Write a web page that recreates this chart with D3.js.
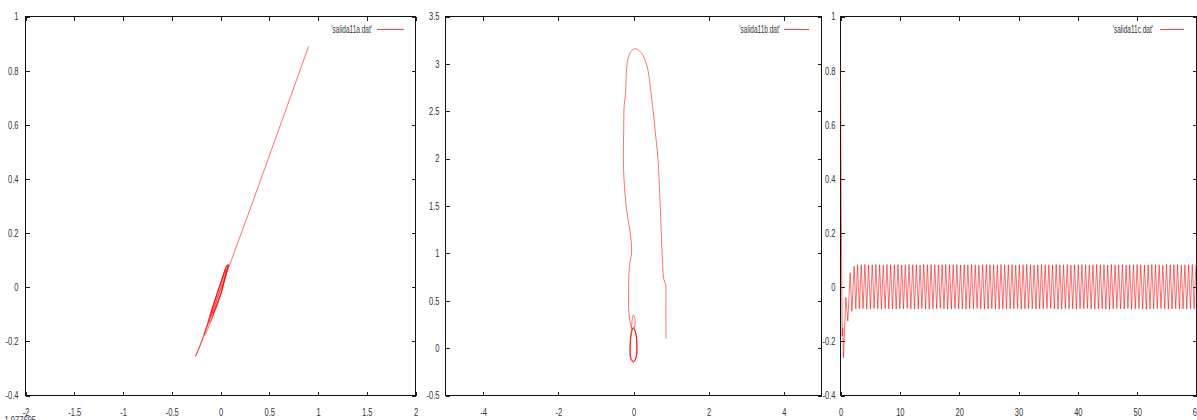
<!DOCTYPE html>
<html>
<head>
<meta charset="utf-8">
<script src="https://cdn.jsdelivr.net/npm/d3@7"></script>
<style>
  html, body { margin: 0; padding: 0; background: #fff; }
  svg { display: block; }
</style>
</head>
<body>
<svg id="chart" width="1197" height="420"></svg>
<script>
// ---- panel a: phase portrait (x, y) ----
const aX = [0.903, 0.60, 0.30, 0.00, -0.20, -0.256, -0.21, -0.06, 0.06, 0.038, -0.07, -0.17, -0.15, -0.03, 0.075,
            0.052, -0.06, -0.127, -0.104, 0.00, 0.080, 0.060, -0.03, -0.105, -0.085, 0.01, 0.083,
            0.066, -0.02, -0.095, -0.078, 0.01, 0.085];
const aY = [0.889, 0.585, 0.285, -0.010, -0.205, -0.255, -0.218, -0.070, 0.065, 0.055, -0.060, -0.175, -0.172, -0.065, 0.078,
            0.071, -0.050, -0.127, -0.128, -0.030, 0.082, 0.080, -0.020, -0.105, -0.108, -0.020, 0.083,
            0.082, -0.010, -0.093, -0.096, -0.018, 0.084];

// ---- panel b: phase portrait (x, y) ----
const bX = [0.865, 0.86, 0.855, 0.80, 0.78, 0.76, 0.71, 0.65, 0.59, 0.48, 0.35, 0.20, 0.05, -0.05, -0.15, -0.19, -0.21,
            -0.25, -0.26, -0.27, -0.24, -0.18, -0.10, -0.06, -0.05, -0.09, -0.12, -0.13, -0.13, -0.10, -0.04,
            0.02, 0.04, 0.00, -0.04, -0.06, -0.09, -0.07, 0.00, 0.07, 0.09, 0.06, 0.00, -0.06, -0.09, -0.07,
            0.00, 0.07, 0.09, 0.06, 0.00, -0.06, -0.09, -0.07, 0.00, 0.07, 0.09, 0.05, 0.00];
const bY = [0.10, 0.40, 0.66, 0.74, 0.85, 1.00, 1.50, 2.00, 2.24, 2.65, 2.99, 3.12, 3.16, 3.14, 3.05, 2.90, 2.70,
            2.55, 2.30, 2.00, 1.70, 1.45, 1.25, 1.12, 1.00, 0.92, 0.80, 0.60, 0.42, 0.30, 0.21,
            0.22, 0.31, 0.35, 0.28, 0.15, 0.00, -0.12, -0.15, -0.10, 0.03, 0.16, 0.22, 0.16, 0.03, -0.10,
            -0.14, -0.10, 0.03, 0.16, 0.21, 0.15, 0.02, -0.11, -0.14, -0.09, 0.03, 0.17, 0.21];

// ---- panel c: time series ----
const cStartT = [0, 0.12, 0.28, 0.38, 0.50, 0.90, 1.23, 1.63, 1.91, 2.30, 2.58, 2.87];
const cStartY = [0.82, 0.30, -0.18, -0.15, -0.26, -0.038, -0.125, 0.054, -0.089, 0.078, -0.080, 0.083];
const cHalfPeriod = 0.31;
const cTroughs = [
  -0.080,-0.079,-0.081,-0.080,-0.078,-0.080,-0.081,-0.079,-0.080,-0.080,
  -0.081,-0.079,-0.080,-0.078,-0.080,-0.081,-0.080,-0.079,-0.080,-0.081,
  -0.080,-0.079,-0.078,-0.080,-0.081,-0.080,-0.079,-0.080,-0.080,-0.081,
  -0.079,-0.080,-0.078,-0.080,-0.081,-0.080,-0.079,-0.080,-0.081,-0.080,
  -0.079,-0.080,-0.080,-0.078,-0.081,-0.080,-0.079,-0.080,-0.081,-0.080,
  -0.080,-0.079,-0.078,-0.080,-0.081,-0.080,-0.079,-0.080,-0.080,-0.081,
  -0.079,-0.080,-0.078,-0.080,-0.081,-0.080,-0.079,-0.080,-0.081,-0.080,
  -0.079,-0.080,-0.080,-0.078,-0.081,-0.080,-0.079,-0.080,-0.081,-0.080,
  -0.080,-0.079,-0.078,-0.080,-0.081,-0.080,-0.079,-0.080,-0.080,-0.081,
  -0.079,-0.080];
const cPeaks = [
  0.083,0.084,0.082,0.083,0.084,0.083,0.082,0.084,0.083,0.083,
  0.084,0.082,0.083,0.084,0.083,0.083,0.082,0.084,0.083,0.084,
  0.083,0.082,0.083,0.084,0.083,0.083,0.084,0.082,0.083,0.083,
  0.084,0.083,0.082,0.083,0.084,0.083,0.083,0.082,0.084,0.083,
  0.083,0.084,0.082,0.083,0.083,0.084,0.083,0.082,0.083,0.084,
  0.083,0.083,0.082,0.084,0.083,0.083,0.084,0.082,0.083,0.083,
  0.084,0.083,0.082,0.083,0.084,0.083,0.083,0.082,0.084,0.083,
  0.083,0.084,0.082,0.083,0.083,0.084,0.083,0.082,0.083,0.084,
  0.083,0.083,0.082,0.084,0.083,0.083,0.084,0.082,0.083,0.083,
  0.084,0.083];

// ---- axes ----
const aXTicks = [-2, -1.5, -1, -0.5, 0, 0.5, 1, 1.5, 2];
const aYTicks = [-0.4, -0.2, 0, 0.2, 0.4, 0.6, 0.8, 1];
const bXTicks = [-4, -2, 0, 2, 4];
const bYTicks = [-0.5, 0, 0.5, 1, 1.5, 2, 2.5, 3, 3.5];
const cXTicks = [0, 10, 20, 30, 40, 50, 60];
const cYTicks = [-0.4, -0.2, 0, 0.2, 0.4, 0.6, 0.8, 1];

const legendA = "'salida11a.dat'";
const legendB = "'salida11b.dat'";
const legendC = "'salida11c.dat'";

const svg = d3.select("#chart");
const FONT = "'Liberation Sans', Arial, sans-serif";
const SX = 0.72;   // horizontal squeeze of the gnuplot-style lettering
const fmt = v => String(+v.toFixed(2));

function drawPanel(o) {
  const x = d3.scaleLinear().domain(o.xDomain).range([o.left, o.right]);
  const y = d3.scaleLinear().domain(o.yDomain).range([o.bottom, o.top]);
  const g = svg.append("g");

  // frame
  g.append("rect")
    .attr("x", o.left).attr("y", o.top)
    .attr("width", o.right - o.left).attr("height", o.bottom - o.top)
    .attr("fill", "none").attr("stroke", "#111").attr("stroke-width", 1)
    .attr("shape-rendering", "crispEdges");

  const styleAxis = sel => {
    sel.select(".domain").remove();
    sel.selectAll("line").attr("stroke", "#222").attr("shape-rendering", "crispEdges");
    sel.selectAll("text").attr("font-family", FONT).attr("font-size", 10.5).attr("fill", "#333");
  };

  // left axis with labels, ticks pointing inward
  const gl = g.append("g").attr("transform", `translate(${o.left},0)`)
    .call(d3.axisLeft(y).tickValues(o.yTicks).tickFormat(fmt).tickSizeInner(-4).tickSizeOuter(0).tickPadding(o.yPad));
  styleAxis(gl);
  gl.selectAll("text").each(function () {
    const t = d3.select(this);
    const xx = +t.attr("x");
    t.attr("x", 0).attr("transform", `translate(${xx},0) scale(${SX},1)`);
  });

  // right mirror ticks
  const gr = g.append("g").attr("transform", `translate(${o.right},0)`)
    .call(d3.axisRight(y).tickValues(o.yTicks).tickFormat("").tickSizeInner(-4).tickSizeOuter(0));
  styleAxis(gr);

  // bottom axis with labels
  const gb = g.append("g").attr("transform", `translate(0,${o.bottom})`)
    .call(d3.axisBottom(x).tickValues(o.xTicks).tickFormat(fmt).tickSizeInner(-4).tickSizeOuter(0).tickPadding(13));
  styleAxis(gb);
  gb.selectAll("text").attr("transform", `scale(${SX},1)`);

  // top mirror ticks
  const gt = g.append("g").attr("transform", `translate(0,${o.top})`)
    .call(d3.axisTop(x).tickValues(o.xTicks).tickFormat("").tickSizeInner(-4).tickSizeOuter(0));
  styleAxis(gt);

  // data
  const clipId = "clip" + o.id;
  svg.append("clipPath").attr("id", clipId).append("rect")
    .attr("x", o.left).attr("y", o.top).attr("width", o.right - o.left).attr("height", o.bottom - o.top);
  const line = d3.line().x(d => x(d[0])).y(d => y(d[1])).curve(o.curve || d3.curveLinear);
  g.append("path")
    .datum(o.points)
    .attr("clip-path", `url(#${clipId})`)
    .attr("d", line)
    .attr("fill", "none")
    .attr("stroke", "#ff0000")
    .attr("stroke-opacity", 0.75)
    .attr("stroke-width", 0.75)
    .attr("stroke-linejoin", "round");

  // key
  g.append("text")
    .attr("font-family", FONT).attr("font-size", 10.5).attr("fill", "#333")
    .attr("text-anchor", "end")
    .attr("transform", `translate(${o.keyTextX},32.5) scale(0.62,1)`)
    .text(o.legend);
  g.append("line")
    .attr("x1", o.keyLine[0]).attr("x2", o.keyLine[1])
    .attr("y1", 29.5).attr("y2", 29.5)
    .attr("stroke", "#ff0000").attr("stroke-opacity", 0.75).attr("stroke-width", 1);
}

// assemble point lists
const ptsA = aX.map((v, i) => [v, aY[i]]);
const ptsB = bX.map((v, i) => [v, bY[i]]);
const ptsC = cStartT.map((t, i) => [t, cStartY[i]]);
const t0 = cStartT[cStartT.length - 1];
let k = 1;
for (let i = 0; i < cTroughs.length; i++) {
  ptsC.push([t0 + (k++) * cHalfPeriod, cTroughs[i]]);
  ptsC.push([t0 + (k++) * cHalfPeriod, cPeaks[i]]);
}

drawPanel({
  id: "a", left: 25.5, right: 415.5, top: 16.5, bottom: 395.5,
  xDomain: [-2, 2], yDomain: [-0.4, 1], xTicks: aXTicks, yTicks: aYTicks, yPad: 7,
  points: ptsA, legend: legendA, keyTextX: 372, keyLine: [377, 404]
});
drawPanel({
  id: "b", left: 445.5, right: 821.5, top: 16.5, bottom: 395.5,
  xDomain: [-5, 5], yDomain: [-0.5, 3.5], xTicks: bXTicks, yTicks: bYTicks, yPad: 6,
  points: ptsB, curve: d3.curveCatmullRom, legend: legendB, keyTextX: 780, keyLine: [784, 809]
});
drawPanel({
  id: "c", left: 840.5, right: 1196.5, top: 16.5, bottom: 395.5,
  xDomain: [0, 60], yDomain: [-0.4, 1], xTicks: cXTicks, yTicks: cYTicks, yPad: 5,
  points: ptsC, legend: legendC, keyTextX: 1153, keyLine: [1160, 1184]
});

// mouse readout partly below the window edge
svg.append("text")
  .attr("font-family", FONT).attr("font-size", 10.5).attr("fill", "#333")
  .attr("transform", "translate(2,423.5) scale(0.72,1)")
  .text("-1.977695");
</script>
</body>
</html>
